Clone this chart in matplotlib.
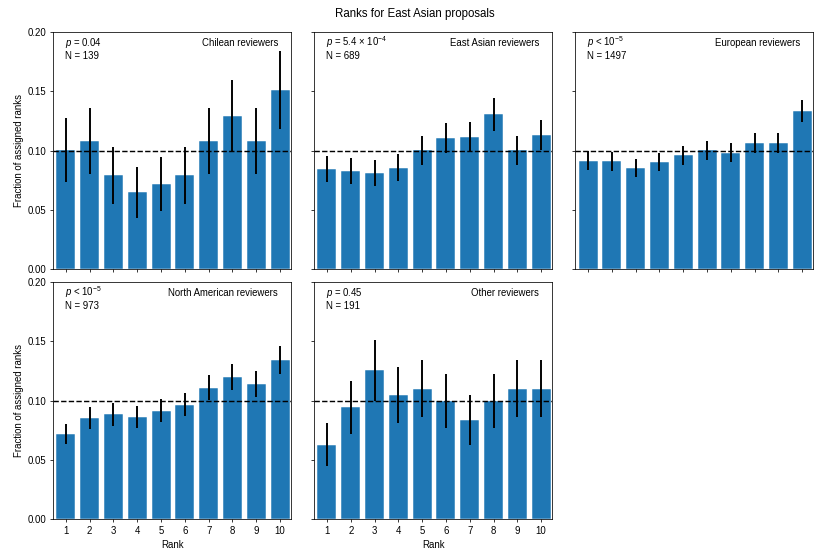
import numpy as np
import matplotlib
matplotlib.use("Agg")
import matplotlib.pyplot as plt

plt.rcParams['font.family'] = ['Liberation Sans', 'DejaVu Sans']
plt.rcParams['mathtext.fontset'] = 'custom'
plt.rcParams['mathtext.rm'] = 'Liberation Sans'
plt.rcParams['mathtext.it'] = 'Liberation Sans:italic'
plt.rcParams['font.size'] = 10

# Data: number of times each rank (1..10) was assigned to East Asian proposals
ranks = np.arange(1, 11)
groups = ["Chilean reviewers", "East Asian reviewers", "European reviewers",
          "North American reviewers", "Other reviewers"]
p_labels = [r"$p$ = 0.04", r"$p$ = 5.4 × 10$^{-4}$", r"$p$ < 10$^{-5}$",
            r"$p$ < 10$^{-5}$", r"$p$ = 0.45"]
n_totals = [139, 689, 1497, 973, 191]

counts_chile = [14, 15, 11, 9, 10, 11, 15, 18, 15, 21]
counts_eastasia = [58, 57, 56, 59, 69, 76, 77, 90, 69, 78]
counts_europe = [137, 136, 128, 135, 144, 150, 147, 160, 160, 200]
counts_namerica = [70, 83, 86, 84, 89, 94, 108, 117, 111, 131]
counts_other = [12, 18, 24, 20, 21, 19, 16, 19, 21, 21]
all_counts = [counts_chile, counts_eastasia, counts_europe, counts_namerica, counts_other]

dpi = 830 / 12
fig, axes = plt.subplots(2, 3, figsize=(12, 554 / dpi), sharex=True, sharey=True)
fig.subplots_adjust(left=0.0642, right=0.980, top=0.9417, bottom=0.0632,
                    wspace=0.097, hspace=0.056)

for i, ax in enumerate(axes.flat[:5]):
    counts = np.array(all_counts[i])
    n = n_totals[i]
    frac = counts / n
    err = np.sqrt(counts) / n
    ax.bar(ranks, frac, width=0.8, color='#1f77b4', edgecolor='white', linewidth=0.5)
    ax.errorbar(ranks, frac, yerr=err, fmt='none', ecolor='black', elinewidth=2, capsize=0)
    ax.axhline(0.1, color='black', linestyle='--', linewidth=1.5)
    ax.text(0.05, 0.942, p_labels[i], transform=ax.transAxes, ha='left', va='baseline')
    ax.text(0.05, 0.889, "N = %d" % n, transform=ax.transAxes, ha='left', va='baseline')
    ax.text(0.945, 0.942, groups[i], transform=ax.transAxes, ha='right', va='baseline')

axes[1, 2].remove()
axes[0, 2].tick_params(labelbottom=False)

ax0 = axes[0, 0]
ax0.set_xlim(0.47, 10.47)
ax0.set_ylim(0, 0.2)
ax0.set_xticks(ranks)
ax0.set_yticks([0, 0.05, 0.1, 0.15, 0.2])
ax0.set_yticklabels(["0.00", "0.05", "0.10", "0.15", "0.20"])

for ax in axes[:, 0]:
    ax.set_ylabel("Fraction of assigned ranks")
for ax in axes[1, :2]:
    ax.set_xlabel("Rank")

fig.suptitle("Ranks for East Asian proposals", fontsize=12, y=0.985)

fig.savefig("out.png", dpi=dpi)
